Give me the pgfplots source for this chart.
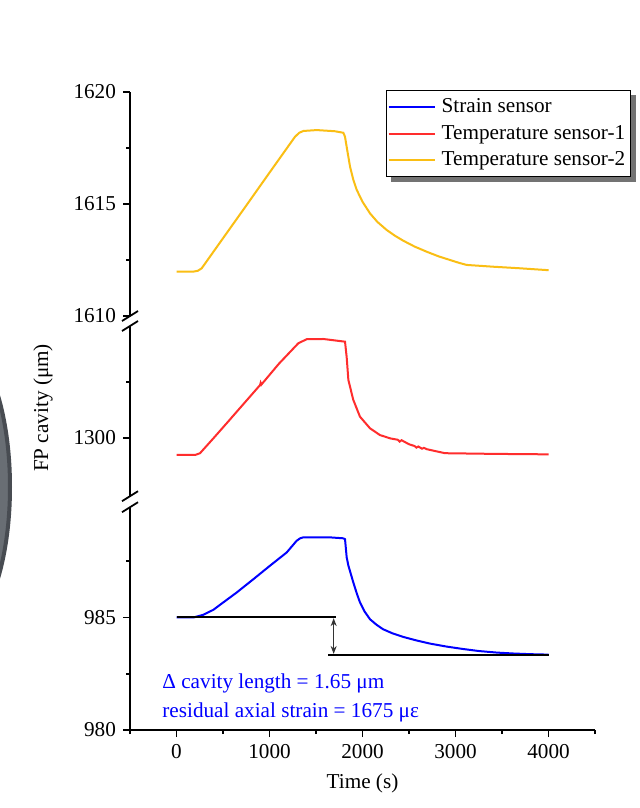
\documentclass[border=0pt]{standalone}
\usepackage{fontspec}
\setmainfont{Liberation Serif}
\usepackage{pgfplots}
\pgfplotsset{compat=1.18}
\usetikzlibrary{arrows.meta}
\pgfdeclarelayer{background}
\pgfsetlayers{background,main}

\definecolor{sblue}{RGB}{0,0,255}
\definecolor{sred}{RGB}{255,45,45}
\definecolor{syellow}{RGB}{250,190,20}
\definecolor{edgegray}{RGB}{105,110,116}
\definecolor{edgedark}{RGB}{72,76,82}

\newcommand{\chartfont}{\fontsize{10.6}{12.6}\selectfont}

% strain sensor (lower segment)
\pgfplotstableread{
t v
0 985.00
181 985.00
288 985.12
396 985.34
503 985.67
647 986.11
826 986.70
1005 987.30
1185 987.89
1292 988.41
1330 988.52
1363 988.56
1651 988.56
1790 988.52
1812 988.48
1830 987.67
1848 987.31
1901 986.56
1940 986.05
1973 985.67
2020 985.28
2081 984.92
2150 984.68
2220 984.48
2320 984.30
2435 984.14
2580 983.98
2726 983.84
2900 983.71
3081 983.60
3250 983.51
3446 983.44
3620 983.40
3801 983.37
4000 983.35
}\strain

% temperature sensor 1 (middle segment)
\pgfplotstableread{
t v
0 1299.24
200 1299.24
253 1299.32
400 1300.00
540 1300.66
700 1301.42
898 1302.36
905 1302.46
912 1302.38
1100 1303.31
1310 1304.23
1400 1304.41
1579 1304.42
1812 1304.30
1830 1303.60
1848 1302.59
1901 1301.70
1973 1300.95
2081 1300.43
2188 1300.13
2300 1299.98
2380 1299.92
2400 1299.84
2420 1299.90
2500 1299.72
2560 1299.64
2580 1299.57
2600 1299.62
2640 1299.52
2660 1299.56
2690 1299.50
2887 1299.32
3406 1299.29
3981 1299.27
4000 1299.27
}\tempone

% temperature sensor 2 (upper segment)
\pgfplotstableread{
t v
0 1611.98
181 1611.98
230 1612.02
271 1612.13
500 1613.47
750 1614.93
1000 1616.40
1274 1618.00
1320 1618.18
1364 1618.26
1508 1618.30
1700 1618.25
1794 1618.18
1812 1618.00
1840 1617.30
1866 1616.67
1900 1616.10
1938 1615.63
2000 1615.10
2081 1614.58
2160 1614.20
2260 1613.84
2350 1613.58
2439 1613.36
2560 1613.10
2690 1612.87
2820 1612.66
2941 1612.50
3040 1612.37
3120 1612.28
3406 1612.20
3694 1612.13
3981 1612.05
4000 1612.05
}\temptwo

\tikzset{brk/.style={line width=0.9pt}}

\pgfplotsset{
  seg/.style={
    scale only axis, width=232.5pt,
    xmin=-500, xmax=4500,
    axis line style={-, line width=1pt},
    tick align=outside,
    major tick length=3.5pt, minor tick length=2pt,
    every tick/.style={line width=0.9pt, black},
    /pgf/number format/assume math mode=true,
    /pgf/number format/1000 sep={},
    font=\chartfont,
    clip=false,
  },
  upper/.style={seg, hide x axis, axis y line*=left},
}

\begin{document}
\begin{tikzpicture}
\useasboundingbox (0,0) rectangle (320pt,-404pt);
\begin{pgfonlayer}{background}
\fill[white] (0,0) rectangle (320pt,-404pt);
\filldraw[fill=edgegray, draw=edgedark, line width=2pt] (-24pt,-243.5pt) ellipse [x radius=29pt, y radius=75pt];
\end{pgfonlayer}

% lower segment: strain sensor
\begin{axis}[seg, at={(65pt,-365pt)}, anchor=south west,
  height=111.4pt, ymin=980, ymax=989.9,
  axis lines*=left,
  xtick={0,1000,2000,3000,4000},
  minor xtick={-500,500,1500,2500,3500,4500},
  ytick={980,985}, minor ytick={982.5,987.5},
  xlabel={Time (s)},
  xlabel style={yshift=-1pt},
]
\addplot[sblue, line width=1pt] table[x=t, y=v] {\strain};
\addplot[black, line width=1pt] coordinates {(0,985.0) (1720,985.0)};
\addplot[black, line width=1pt] coordinates {(1630,983.35) (4000,983.35)};
\draw[{Stealth[length=4pt,width=3pt]}-{Stealth[length=4pt,width=3pt]}, gray!40!black, line width=0.5pt]
  (axis cs:1690,984.97) -- (axis cs:1690,983.38);
\draw[brk] (rel axis cs:0,1) ++(-4pt,-2.5pt) -- ++(8pt,5pt);
\end{axis}

% middle segment: temperature sensor 1
\begin{axis}[upper, at={(65pt,-248.1pt)}, anchor=south west,
  height=85.1pt, ymin=1297.4, ymax=1305,
  ytick={1300}, minor ytick={1302.5},
]
\addplot[sred, line width=1pt] table[x=t, y=v] {\tempone};
\draw[brk] (rel axis cs:0,1) ++(-4pt,-2.5pt) -- ++(8pt,5pt);
\draw[brk] (rel axis cs:0,0) ++(-4pt,-2.5pt) -- ++(8pt,5pt);
\end{axis}

% upper segment: temperature sensor 2, carries the legend
\begin{axis}[upper, at={(65pt,-158pt)}, anchor=south west,
  height=112pt, ymin=1610, ymax=1620,
  ytick={1610,1615,1620}, minor ytick={1612.5,1617.5},
  legend style={name=sensorlegend, at={(1.077,1.009)}, anchor=north east,
    draw=black, line width=0.6pt, fill=white,
    font=\chartfont,
    cells={anchor=west, inner xsep=1pt},
    row sep=0.8pt, inner xsep=0.5pt, inner ysep=2pt,
    /tikz/every odd column/.append style={column sep=1pt}},
  legend image code/.code={%
    \draw[#1] (0pt,0pt) -- (23pt,0pt);
    \path[draw=none, fill=none] (0pt,-3.5pt) rectangle (0pt,0pt);},
]
\addlegendimage{sblue, line width=0.8pt}
\addlegendentry{Strain sensor}
\addlegendimage{sred, line width=0.8pt}
\addlegendentry{Temperature sensor-1}
\addplot[syellow, line width=1pt] table[x=t, y=v] {\temptwo};
\addlegendentry{Temperature sensor-2}
\draw[brk] (rel axis cs:0,0) ++(-4pt,-2.5pt) -- ++(8pt,5pt);
\end{axis}

% shadow behind the legend box
\begin{pgfonlayer}{background}
\fill[black!55] ([shift={(2.5pt,-2.5pt)}]sensorlegend.south west) rectangle ([shift={(2.5pt,-2.5pt)}]sensorlegend.north east);
\end{pgfonlayer}

\node[rotate=90, font=\chartfont] at (21.5pt,-204pt) {FP cavity (μm)};
\node[anchor=west, text=sblue, font=\chartfont, inner sep=0pt] at (81pt,-341.5pt) {Δ cavity length = 1.65 μm};
\node[anchor=west, text=sblue, font=\chartfont, inner sep=0pt] at (81pt,-356pt) {residual axial strain = 1675 με};
\end{tikzpicture}
\end{document}
